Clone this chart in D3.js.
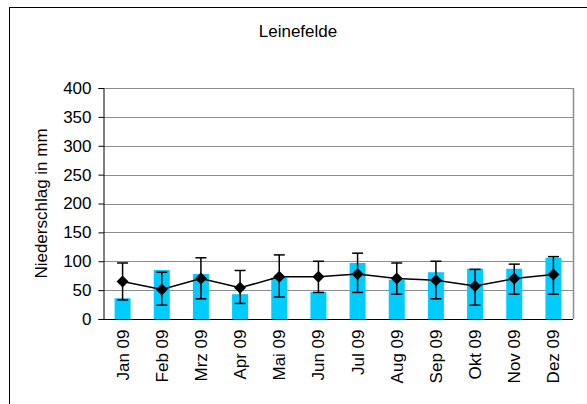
<!DOCTYPE html>
<meta charset="utf-8">
<style>
body { margin: 0; background: #fff; }
text { font-family: "Liberation Sans", Arial, sans-serif; fill: #000; }
</style>
<svg width="587" height="404"></svg>
<script src="https://d3js.org/d3.v7.min.js"></script>
<script>
// monthly precipitation, Leinefelde 2009
var months = ["Jan 09", "Feb 09", "Mrz 09", "Apr 09", "Mai 09", "Jun 09",
              "Jul 09", "Aug 09", "Sep 09", "Okt 09", "Nov 09", "Dez 09"];
var precip2009 = [36, 85, 78, 43, 72, 47, 97, 68, 81, 87, 87, 106];
// long-term mean with error bar ends
var meanPrecip = [65, 51, 70, 54, 73, 73, 78, 70, 67, 57, 70, 77];
var errUpper  = [97, 81, 106, 84, 111, 100, 114, 97, 100, 86, 95, 108];
var errLower  = [33, 24, 35, 27, 38, 46, 46, 43, 35, 24, 43, 43];
var yTicks = [0, 50, 100, 150, 200, 250, 300, 350, 400];

var svg = d3.select("svg");
var plotLeft = 103, plotRight = 573, plotTop = 88, plotBottom = 319;

// outer chart frame
svg.append("rect")
    .attr("x", 9.5).attr("y", 7.5)
    .attr("width", 600).attr("height", 420)
    .attr("fill", "#fff").attr("stroke", "#000").attr("stroke-width", 1);

var x = d3.scaleBand().domain(months).range([plotLeft, plotRight]);
var y = d3.scaleLinear().domain([0, 400]).range([plotBottom, plotTop]);

// grid
svg.append("g").selectAll("line")
    .data(yTicks.slice(1))
    .enter().append("line")
      .attr("x1", plotLeft).attr("x2", plotRight)
      .attr("y1", function(d) { return Math.round(y(d)) + 0.5; })
      .attr("y2", function(d) { return Math.round(y(d)) + 0.5; })
      .attr("stroke", "#8c8c8c").attr("stroke-width", 1);

// right border of plot area
svg.append("line")
    .attr("x1", plotRight + 0.5).attr("x2", plotRight + 0.5)
    .attr("y1", plotTop).attr("y2", plotBottom)
    .attr("stroke", "#8c8c8c").attr("stroke-width", 1.5);

// bars
var barW = 16;
svg.append("g").selectAll("rect")
    .data(precip2009)
    .enter().append("rect")
      .attr("x", function(d, i) { return x(months[i]) + x.bandwidth() / 2 - barW / 2; })
      .attr("y", function(d) { return y(d); })
      .attr("width", barW)
      .attr("height", function(d) { return y(0) - y(d); })
      .attr("fill", "#00ccff");

// y axis
var yAxis = svg.append("g")
    .attr("transform", "translate(" + (plotLeft + 0.5) + ",0)")
    .call(d3.axisLeft(y).tickValues(yTicks).tickSize(5).tickPadding(7));
yAxis.select(".domain").attr("stroke", "#000");
yAxis.selectAll("line").attr("stroke", "#000");
yAxis.selectAll("text")
    .style("font-family", "Liberation Sans, Arial, sans-serif")
    .style("font-size", "17px");

// x axis
var xAxis = svg.append("g")
    .attr("transform", "translate(0," + (plotBottom + 0.5) + ")")
    .call(d3.axisBottom(x).tickSize(0).tickPadding(0));
xAxis.select(".domain").attr("stroke", "#000").attr("d", "M" + plotLeft + ",0H" + plotRight);
xAxis.selectAll("text")
    .style("font-family", "Liberation Sans, Arial, sans-serif")
    .style("font-size", "17px")
    .attr("text-anchor", "end")
    .attr("transform", "translate(6,10) rotate(-90)")
    .attr("dy", "0")
    .attr("y", 0)
    .attr("x", 0);

// error bars
var cap = 5.5;
var eb = svg.append("g").attr("stroke", "#000").attr("stroke-width", 1.5);
months.forEach(function(m, i) {
  var cx = x(m) + x.bandwidth() / 2;
  eb.append("line").attr("x1", cx).attr("x2", cx)
    .attr("y1", y(errUpper[i])).attr("y2", y(errLower[i]));
  eb.append("line").attr("x1", cx - cap).attr("x2", cx + cap)
    .attr("y1", y(errUpper[i])).attr("y2", y(errUpper[i]));
  eb.append("line").attr("x1", cx - cap).attr("x2", cx + cap)
    .attr("y1", y(errLower[i])).attr("y2", y(errLower[i]));
});

// mean line
var line = d3.line()
    .x(function(d, i) { return x(months[i]) + x.bandwidth() / 2; })
    .y(function(d) { return y(d); });
svg.append("path")
    .datum(meanPrecip)
    .attr("d", line)
    .attr("fill", "none")
    .attr("stroke", "#000")
    .attr("stroke-width", 1.5);

// diamond markers
svg.append("g").selectAll("path")
    .data(meanPrecip)
    .enter().append("path")
      .attr("d", "M0,-6L6,0L0,6L-6,0Z")
      .attr("transform", function(d, i) {
        return "translate(" + (x(months[i]) + x.bandwidth() / 2) + "," + y(d) + ")";
      })
      .attr("fill", "#000");

// title
svg.append("text")
    .attr("x", 298).attr("y", 37)
    .attr("text-anchor", "middle")
    .style("font-size", "17px")
    .text("Leinefelde");

// y label
svg.append("text")
    .attr("transform", "translate(47," + ((plotTop + plotBottom) / 2) + ") rotate(-90)")
    .attr("text-anchor", "middle")
    .style("font-size", "17px")
    .text("Niederschlag in mm");
</script>
